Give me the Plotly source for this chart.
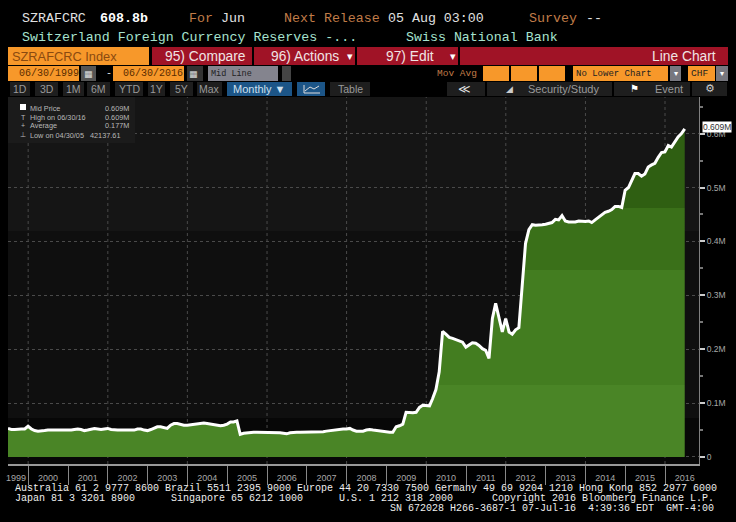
import pandas as pd
import plotly.graph_objects as go

# ---- data (millions of CHF; month-end values) ----
v1999 = [.053,.051,.051,.052,.052,.052,.057]
v2000 = [.052,.049,.048,.048,.049,.050,.050,.049,.049,.050,.050,.050]
v2001 = [.050,.051,.052,.051,.049,.050,.052,.053,.052,.051,.052,.053]
v2002 = [.051,.050,.050,.050,.050,.051,.051,.050,.052,.052,.050,.049]
v2003 = [.051,.053,.056,.056,.055,.053,.059,.062,.062,.060,.059,.059]
v2004 = [.060,.061,.062,.062,.063,.062,.061,.061,.059,.058,.059,.061]
v2005 = [.065,.065,.067,.042,.044,.045,.046,.046,.046,.046,.046,.046]
v2006 = [.045,.046,.046,.045,.044,.043,.045,.046,.046,.046,.046,.046]
v2007 = [.046,.046,.046,.046,.047,.048,.049,.050,.051,.051,.052,.052]
v2008 = [.053,.050,.048,.048,.048,.050,.051,.050,.049,.049,.048,.047]
v2009 = [.046,.046,.056,.058,.061,.083,.082,.082,.083,.092,.096,.095]
v2010 = [.095,.108,.125,.158,.233,.228,.222,.220,.218,.216,.213,.204]
v2011 = [.208,.212,.211,.207,.201,.198,.183,.257,.285,.255,.232,.257]
v2012 = [.232,.228,.236,.240,.315,.396,.422,.431,.430,.430,.431,.432]
v2013 = [.433,.435,.441,.440,.448,.438,.436,.436,.436,.438,.437,.437]
v2014 = [.438,.435,.440,.445,.450,.454,.456,.459,.465,.465,.463,.495]
v2015 = [.500,.512,.526,.526,.521,.525,.538,.542,.545,.556,.565,.566]
v2016 = [.578,.575,.584,.594,.600,.609]
values = (v1999+v2000+v2001+v2002+v2003+v2004+v2005+v2006+v2007+v2008+
          v2009+v2010+v2011+v2012+v2013+v2014+v2015+v2016)
dates = pd.date_range("1999-06-30", periods=len(values), freq="ME")

year_labels = [str(y) for y in range(2000, 2017)]
year_label_pos = [f"{y}-07-01" for y in range(2000, 2017)]
year_starts = [f"{y}-01-01" for y in range(2000, 2017)]
grid_years = [f"{y}-01-01" for y in range(2000, 2017, 2)]
y_ticks = [0, .1, .2, .3, .4, .5, .6]
y_ticktext = ["0", "0.1M", "0.2M", "0.3M", "0.4M", "0.5M", "0.6M"]

# ---- page layout in pixels ----
W, H = 736, 522
L, R, T, B = 8, 699, 97, 464
px = lambda x: (x - L) / (R - L)
py = lambda y: 1 - (y - T) / (B - T)
MONO = "Liberation Mono"
SANS = "Liberation Sans"
shapes, notes = [], []

def rect(x0, y0, x1, y1, color, layer="above"):
    shapes.append(dict(type="rect", xref="paper", yref="paper", x0=px(x0), x1=px(x1),
                       y0=py(y0), y1=py(y1), fillcolor=color, line_width=0, layer=layer))

def seg(x0, y0, x1, y1, color, w=1):
    shapes.append(dict(type="line", xref="paper", yref="paper", x0=px(x0), x1=px(x1),
                       y0=py(y0), y1=py(y1), line=dict(color=color, width=w), layer="above"))

def text(x, y, s, color="#e0e0e0", size=13.3, font=MONO, anchor="left", bold=False, bg=None):
    notes.append(dict(xref="paper", yref="paper", x=px(x), y=py(y), text=f"<b>{s}</b>" if bold else s,
                      showarrow=False, xanchor=anchor, yanchor="middle", borderpad=0, bgcolor=bg,
                      font=dict(family=font, size=size, color=color)))

ORANGE, RED, TAN = "#f7982a", "#a01326", "#c07c48"
MINT, GREY, BTN = "#a6e3cf", "#77777f", "#1e1e1e"

# chart background bands
rect(L, T, R, 231, "#151515", "below")
rect(L, 231, R, 418, "#0f0f0f", "below")
rect(L, 418, R, B, "#070707", "below")

# header
text(21, 18, "SZRAFCRC")
text(99, 18, "608.8b", "#ffffff", bold=True)
text(188, 18, "For", TAN)
text(220, 18, "Jun")
text(283, 18, "Next Release", TAN)
text(387, 18, "05 Aug 03:00")
text(528, 18, "Survey", TAN)
text(585, 18, "--")
text(21, 37, "Switzerland Foreign Currency Reserves -...", MINT)
text(405, 37, "Swiss National Bank", MINT)

# command row
rect(8, 47, 149, 65, ORANGE)
text(11, 56, "SZRAFCRC Index", "#8a4a10", 12.8, SANS)
rect(152, 47, 252, 65, RED)
text(164, 56, "95) Compare", "#f0e4e4", 13.8, SANS)
rect(254, 47, 355, 65, RED)
text(270, 56, "96) Actions", "#f0e4e4", 13.8, SANS)
rect(357, 47, 458, 65, RED)
text(385, 56, "97) Edit", "#f0e4e4", 13.8, SANS)
rect(460, 47, 728, 65, RED)
text(717, 56, "Line Chart", "#f0e4e4", 13.8, SANS, anchor="right")
text(350, 56, "▾", "#ffffff", 11, "DejaVu Sans", anchor="center")
text(453, 56, "▾", "#ffffff", 11, "DejaVu Sans", anchor="center")

# date row
rect(8, 66, 79, 81, ORANGE)
text(18, 73.5, "06/30/1999", "#5a2c00", 10)
rect(81, 66, 96, 81, "#555555")
text(88, 73.5, "▦", "#dddddd", 9, "DejaVu Sans", anchor="center")
text(105, 73.5, "-", "#dddddd", 10)
rect(113, 66, 184, 81, ORANGE)
text(122, 73.5, "06/30/2016", "#5a2c00", 10)
rect(187, 66, 203, 81, "#333333")
text(193, 73.5, "▦", "#dddddd", 9, "DejaVu Sans", anchor="center")
rect(208, 66, 278, 81, "#84848e")
text(210, 73.5, "Mid Line", "#222222", 8.5)
rect(282, 66, 291, 81, "#444444")
text(436, 73.5, "Mov Avg", TAN, 9.5)
for a, b in [(483, 509), (511, 537), (539, 565)]:
    rect(a, 66, b, 81, ORANGE)
rect(573, 66, 668, 81, ORANGE)
text(575, 73.5, "No Lower Chart", "#222222", 9)
rect(670, 66, 681, 81, GREY)
text(675.5, 73.5, "▾", "#ffffff", 8, "DejaVu Sans", anchor="center")
rect(688, 66, 715, 81, ORANGE)
text(690, 73.5, "CHF", "#222222", 9.5)
rect(716, 66, 728, 81, GREY)
text(722, 73.5, "▾", "#ffffff", 8, "DejaVu Sans", anchor="center")

# button row
for a, b, s in [(10, 30, "1D"), (35, 58, "3D"), (63, 84, "1M"), (87, 110, "6M"), (115, 143, "YTD"),
                (148, 165, "1Y"), (170, 193, "5Y"), (197, 222, "Max"), (330, 370, "Table")]:
    rect(a, 82, b, 96, BTN)
    text((a + b) / 2, 89, s, "#9a9a9a", 10.5, SANS, anchor="center")
rect(227, 82, 292, 96, "#1c5587")
text(232, 89, "Monthly ▼", "#cfe0ee", 11, SANS)
rect(297, 82, 325, 96, "#1c5587")
seg(304, 93, 320, 93, "#dddddd")
seg(304, 93, 304, 85, "#dddddd")
seg(305, 91, 310, 87, "#dddddd")
seg(310, 87, 314, 89, "#dddddd")
seg(314, 89, 319, 86, "#dddddd")
for a, b in [(447, 485), (487, 612), (614, 690), (692, 727)]:
    rect(a, 82, b, 96, BTN)
text(465, 89, "≪", "#dddddd", 12, "DejaVu Sans", anchor="center")
text(509, 89, "◢", "#cccccc", 9, "DejaVu Sans", anchor="center")
text(527, 89, "Security/Study", "#9a9a9a", 11, SANS)
text(634, 89, "⚑", "#ffffff", 10, "DejaVu Sans", anchor="center")
text(654, 89, "Event", "#9a9a9a", 11, SANS)
text(710, 89, "⚙", "#cccccc", 11, "DejaVu Sans", anchor="center")

# legend box
rect(8, 97, 135, 143, "#1b1b1b")
rect(20, 104, 26, 110, "#ffffff")
for y, a, b, c in [(108, "Mid Price", "0.609M", 130), (117, "High on 06/30/16", "0.609M", 130),
                   (126, "Average", "0.177M", 130), (135, "Low on 04/30/05", "42137.61", 121)]:
    text(29, y, a, "#b8b8b8", 7.3, SANS)
    text(c, y, b, "#b8b8b8", 7.3, SANS, anchor="right")
text(23, 117, "T", "#b8b8b8", 7, SANS, anchor="center")
text(23, 126, "+", "#b8b8b8", 7, SANS, anchor="center")
text(23, 135, "⊥", "#b8b8b8", 7, "DejaVu Sans", anchor="center")

# price flag
text(702, 127.5, "0.609M", "#333333", 8.5, SANS, bg="#ffffff")

# 1999 stub label sits in the short visible part of that year
text(16, 478, "1999", "#a8a8a8", 9, SANS, anchor="center")

# footer
F = dict(color="#eeeeee", size=10)
text(14, 488, "Australia 61 2 9777 8600 Brazil 5511 2395 9000 Europe 44 20 7330 7500 Germany 49 69 9204 1210 Hong Kong 852 2977 6000", **F)
text(14, 498, "Japan 81 3 3201 8900", **F)
text(170, 498, "Singapore 65 6212 1000", **F)
text(338, 498, "U.S. 1 212 318 2000", **F)
text(715, 498, "Copyright 2016 Bloomberg Finance L.P.", anchor="right", **F)
text(715, 508, "SN 672028 H266-3687-1 07-Jul-16  4:39:36 EDT  GMT-4:00", anchor="right", **F)

# dotted vertical grid every second year
for g in grid_years:
    shapes.append(dict(type="line", xref="x", yref="paper", x0=g, x1=g, y0=0, y1=1,
                       line=dict(color="#4a4a4a", width=1, dash="dot"), layer="below"))

fig = go.Figure(go.Scatter(
    x=dates, y=values, mode="lines", line=dict(color="#ffffff", width=3), hoverinfo="skip",
    fill="tozeroy",
    fillgradient=dict(type="vertical", start=0, stop=.62, colorscale=[
        [0, "#4a8526"], [.215, "#4a8526"], [.215, "#437d20"], [.56, "#437d20"],
        [.56, "#3a7019"], [.745, "#3a7019"], [.745, "#2f5f12"], [1, "#2f5f12"]]),
))
fig.update_layout(
    width=W, height=H, margin=dict(l=L, r=W - R, t=T, b=H - B, pad=0),
    paper_bgcolor="#000000", plot_bgcolor="rgba(0,0,0,0)", showlegend=False,
    shapes=shapes, annotations=notes,
    xaxis=dict(type="date", range=["1999-06-30", "2016-11-08"], tickmode="array",
               tickvals=year_label_pos, ticktext=year_labels, ticklen=4, ticks="outside",
               tickcolor="rgba(0,0,0,0)", tickfont=dict(family=SANS, size=9, color="#a8a8a8"),
               tickangle=0, showgrid=False, zeroline=False, showline=True, linecolor="#999999",
               linewidth=1.5,
               minor=dict(tickmode="array", tickvals=year_starts, ticks="outside", ticklen=19,
                          tickcolor="#888888", showgrid=False)),
    yaxis=dict(side="right", range=[-.013, .668], tickmode="array", tickvals=y_ticks,
               ticktext=y_ticktext, ticks="outside", ticklen=5, tickwidth=1.5, tickcolor="#cccccc",
               tickfont=dict(family=SANS, size=8.5, color="#a8a8a8"),
               showgrid=True, gridcolor="#4a4a4a", griddash="dot", gridwidth=1, zeroline=False,
               showline=True, linecolor="#808080", linewidth=1,
               minor=dict(tickmode="array", tickvals=[.05, .15, .25, .35, .45, .55, .65],
                          ticks="outside", ticklen=3, tickcolor="#777777", showgrid=False)),
)
fig.write_html("out.html", config=dict(displayModeBar=False),
               post_script="document.body.style.margin='0';document.body.style.background='#000';")
